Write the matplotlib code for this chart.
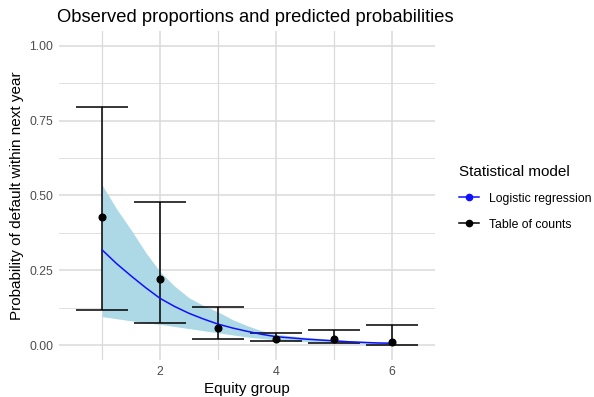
import matplotlib
matplotlib.use("Agg")
import matplotlib.pyplot as plt
from matplotlib.lines import Line2D

plt.rcParams['font.family'] = ['Liberation Sans', 'DejaVu Sans']

# observed proportions by equity group (table of counts) with intervals
groups = [1, 2, 3, 4, 5, 6]
obs_prop = [0.427, 0.221, 0.056, 0.021, 0.020, 0.011]
obs_low = [0.117, 0.074, 0.021, 0.012, 0.008, 0.001]
obs_high = [0.796, 0.479, 0.128, 0.039, 0.051, 0.067]

# logistic regression predictions
fit_x = [1, 1.25, 1.5, 1.75, 2, 2.25, 2.5, 2.75, 3, 3.25, 3.5, 3.75, 4,
         4.25, 4.5, 4.75, 5, 5.25, 5.5, 5.75, 6]
fit_p = [0.318, 0.272, 0.231, 0.192, 0.156, 0.129, 0.106, 0.087, 0.070, 0.057,
         0.046, 0.036, 0.028, 0.024, 0.020, 0.017, 0.014, 0.011, 0.009, 0.007, 0.006]
fit_high = [0.535, 0.455, 0.385, 0.310, 0.245, 0.197, 0.158, 0.132, 0.111, 0.085,
            0.065, 0.048, 0.036, 0.031, 0.026, 0.022, 0.018, 0.015, 0.012, 0.010, 0.009]
fit_low = [0.095, 0.088, 0.081, 0.075, 0.069, 0.062, 0.055, 0.048, 0.041, 0.034,
           0.027, 0.022, 0.017, 0.014, 0.012, 0.010, 0.008, 0.006, 0.004, 0.003, 0.002]

fig = plt.figure(figsize=(5.94, 3.97), dpi=100)
ax = fig.add_axes([0.0993, 0.0932, 0.6330, 0.8288])

grid_col = '#DADADA'
for v in [0.125, 0.375, 0.625, 0.875]:
    ax.axhline(v, color=grid_col, lw=0.6, zorder=0)
for v in [0, 0.25, 0.5, 0.75, 1.0]:
    ax.axhline(v, color=grid_col, lw=1.1, zorder=0)
for v in [1, 3, 5]:
    ax.axvline(v, color=grid_col, lw=0.9, zorder=0)
for v in [2, 4, 6]:
    ax.axvline(v, color=grid_col, lw=1.1, zorder=0)

ax.fill_between(fit_x, fit_low, fit_high, color='#ADD8E6', lw=0, zorder=1)

half = 0.45
ax.vlines(groups, obs_low, obs_high, color='black', lw=1.1, zorder=2)
ax.hlines(obs_low, [g - half for g in groups], [g + half for g in groups],
          color='black', lw=1.1, zorder=2)
ax.hlines(obs_high, [g - half for g in groups], [g + half for g in groups],
          color='black', lw=1.1, zorder=2)

ax.plot(fit_x, fit_p, color='#1010FF', lw=1.1, zorder=3)
ax.plot(groups, obs_prop, 'o', color='black', ms=4.8, zorder=4)

ax.set_xlim(0.255, 6.745)
ax.set_ylim(-0.05, 1.05)
ax.set_xticks([2, 4, 6])
ax.set_yticks([0, 0.25, 0.5, 0.75, 1.0])
ax.set_yticklabels(['0.00', '0.25', '0.50', '0.75', '1.00'])
ax.tick_params(length=0, labelsize=8.8, labelcolor='#4D4D4D', pad=4)
for s in ax.spines.values():
    s.set_visible(False)

ax.set_xlabel('Equity group', fontsize=11, labelpad=3)
ax.set_ylabel('Probability of default within next year', fontsize=11, labelpad=4)
fig.text(0.096, 0.955, 'Observed proportions and predicted probabilities',
         fontsize=13.2, va='center', ha='left')

handles = [
    Line2D([0], [0], color='#1010FF', lw=1.1, marker='o', ms=4.5),
    Line2D([0], [0], color='black', lw=1.1, marker='o', ms=4.5),
]
leg = fig.legend(handles, ['Logistic regression', 'Table of counts'],
                 title='Statistical model', loc='upper left',
                 bbox_to_anchor=(0.755, 0.613), frameon=False,
                 fontsize=8.8, title_fontsize=11, handlelength=1.6,
                 labelspacing=1.15, alignment='left')

fig.savefig('out.png', dpi=100)
